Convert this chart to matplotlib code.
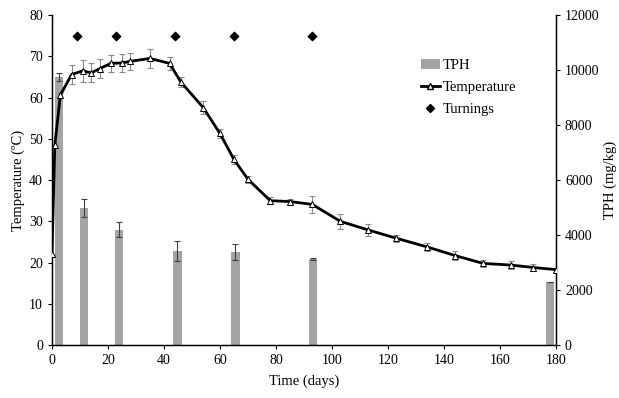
import numpy as np
import matplotlib.pyplot as plt
from matplotlib.patches import Patch
from matplotlib.lines import Line2D

plt.rcParams['font.family'] = ['Liberation Serif', 'DejaVu Serif']
plt.rcParams['font.size'] = 10.5

# ---- datos ----
dias_temp = [0, 1, 3, 7, 11, 14, 17, 21, 25, 28, 35, 42, 46, 54, 60, 65, 70,
             78, 85, 93, 103, 113, 123, 134, 144, 154, 164, 172, 180]
temperatura = [22, 48.5, 60.6, 65.6, 66.5, 66.0, 67.0, 68.3, 68.4, 68.8, 69.5,
               68.3, 63.8, 57.6, 51.3, 45.0, 40.2, 35.0, 34.8, 34.1, 30.0,
               27.9, 25.9, 23.8, 21.7, 19.8, 19.4, 18.8, 18.3]
err_temp = [0, 0, 0.5, 2.2, 2.6, 2.3, 2.3, 2.1, 2.1, 2.1, 2.2, 1.5, 1.2, 1.5,
            1.0, 1.0, 0.8, 0.8, 0.7, 2.0, 1.8, 1.5, 0.8, 1.0, 1.0, 0.8, 1.0,
            0.8, 0]

dias_tph = [2.6, 11.5, 24, 44.8, 65.5, 93.2, 178]
tph = [9750, 5000, 4200, 3430, 3370, 3130, 2290]
err_tph = [130, 330, 280, 360, 290, 50, 0]

dias_volteo = [9, 23, 44, 65, 93]
volteo = [75, 75, 75, 75, 75]

fig = plt.figure(figsize=(6.19, 3.98), dpi=100)
ax = fig.add_axes([0.084, 0.133, 0.814, 0.829])
ax2 = ax.twinx()

# barras TPH (eje derecho)
ax2.bar(dias_tph, tph, width=3.0, color='#a4a4a4', edgecolor='none', zorder=1)
ax2.errorbar(dias_tph, tph, yerr=err_tph, fmt='none', ecolor='#404040',
             elinewidth=0.8, capsize=2, capthick=0.8)
ax2.set_ylim(0, 12000)
ax2.set_yticks(range(0, 12001, 2000))
ax2.set_ylabel('TPH (mg/kg)', labelpad=3)

# temperatura (eje izquierdo, delante)
ax.set_zorder(ax2.get_zorder() + 1)
ax.patch.set_visible(False)
ax.errorbar(dias_temp, temperatura, yerr=err_temp, fmt='none', ecolor='#8a8a8a',
            elinewidth=0.8, capsize=2, capthick=0.8, zorder=2)
ax.plot(dias_temp, temperatura, '-', color='black', linewidth=2,
        marker='^', markersize=4, markerfacecolor='white',
        markeredgecolor='black', markeredgewidth=0.7, zorder=3)
ax.scatter(dias_volteo, volteo, marker='D', s=18, color='black', zorder=4)

ax.set_xlim(0, 180)
ax.set_ylim(0, 80)
ax.set_xticks(range(0, 181, 20))
ax.set_yticks(range(0, 81, 10))
ax.set_xlabel('Time (days)', labelpad=5)
ax.set_ylabel('Temperature (ºC)', labelpad=3)

for a in (ax, ax2):
    a.spines['top'].set_visible(False)
    a.tick_params(direction='out', length=3, width=0.8, labelsize=10)
for s in ('left', 'bottom', 'right'):
    ax2.spines[s].set_linewidth(1.0)

handles = [Patch(facecolor='#a4a4a4', edgecolor='none'),
           Line2D([], [], color='black', linewidth=2, marker='^', markersize=4,
                  markerfacecolor='white', markeredgecolor='black'),
           Line2D([], [], linestyle='none', marker='D', markersize=4, color='black')]
ax.legend(handles, ['TPH', 'Temperature', 'Turnings'], loc='upper left',
          bbox_to_anchor=(0.72, 0.885), frameon=False, handlelength=1.3,
          handletextpad=0.2, labelspacing=0.6, borderaxespad=0)

fig.savefig('out.png', dpi=100)
